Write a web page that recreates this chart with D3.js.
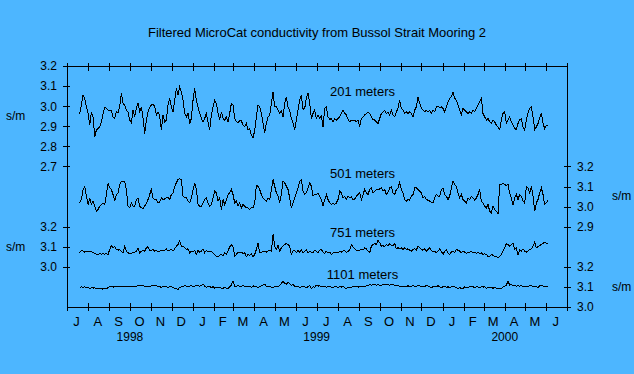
<html>
<meta charset="utf-8">
<script src="https://cdn.jsdelivr.net/npm/d3@7"></script>
<style>
body{
  margin: 0;
  background-color: #4db6ff;
}
text{
  font-family: "Liberation Sans", Arial, sans-serif;
  font-size: 12px;
  fill: black;
}
text.big{
  font-size: 13px;
}
.frame, .tick line{
  stroke: black;
  stroke-width: 1;
  fill: none;
  shape-rendering: crispEdges;
}
.series{
  fill: none;
  stroke: black;
  stroke-width: 1;
  shape-rendering: crispEdges;
}
</style>
<body>
<div id="chartDiv"></div>
<script>
var title = "Filtered MicroCat conductivity from Bussol Strait Mooring 2";
var unitLabel = "s/m";

var monthLabels = ["J","A","S","O","N","D","J","F","M","A","M","J",
                   "J","A","S","O","N","D","J","F","M","A","M","J"];
var yearLabels = ["1998","1999","2000"];
var yearLabelDates = [new Date(1998,9,1), new Date(1999,6,1), new Date(2000,3,1)];

var depthLabels = ["201 meters","501 meters","751 meters","1101 meters"];
var depthLabelValues = [3.05, 3.14, 3.15, 3.14];
var depthLabelDate = new Date(1999,8,6);

var leftTicksUpper = [2.7,2.8,2.9,3.0,3.1,3.2];
var leftTicksLower = [3.0,3.1,3.2];
var rightTicksUpper = [2.9,3.0,3.1,3.2];
var rightTicksLower = [3.0,3.1,3.2];

// filtered series, one value every 2.4365 days from 19 Jul 1998
var sampleStart = new Date(1998,6,19,14);
var sampleStepDays = 2.4365;

var c201 = [2.961,3.005,3.055,3.039,2.997,2.964,2.906,2.972,2.947,2.848,
2.881,2.889,2.897,2.922,2.964,2.994,2.989,2.980,2.977,2.976,
2.947,2.939,2.972,2.969,2.997,3.067,3.014,3.005,2.980,2.972,
2.931,2.917,2.980,2.947,2.989,3.014,2.972,2.997,2.939,2.864,
2.931,2.972,2.994,3.005,3.010,3.000,2.956,2.972,2.951,2.881,
2.956,2.922,2.931,3.005,3.039,2.997,2.972,3.030,3.088,3.055,
3.097,3.072,3.030,2.964,2.947,2.964,2.914,2.939,3.030,3.088,
3.030,2.997,2.964,2.939,2.922,2.939,2.964,2.922,2.881,2.956,
2.997,3.030,3.014,2.964,2.931,2.972,2.939,2.931,2.947,2.922,
2.964,3.014,3.005,2.939,2.922,2.917,2.927,2.927,2.906,2.897,
2.914,2.881,2.889,2.856,2.844,2.878,2.947,3.005,2.997,2.964,
2.914,2.868,2.914,2.947,2.956,3.014,3.072,2.997,2.997,2.980,
2.964,2.977,2.947,3.014,3.047,2.997,2.980,2.939,2.914,2.884,
2.931,2.980,3.030,3.055,2.984,2.989,3.039,3.067,3.014,2.939,
2.964,2.980,
2.939,2.956,2.939,2.951,2.897,2.989,2.997,2.947,2.934,2.939,
2.922,2.939,2.931,2.939,2.947,2.964,2.980,2.964,2.956,2.934,
2.922,2.931,2.927,2.931,2.922,2.931,2.897,2.939,2.947,2.956,
2.964,2.972,2.964,2.947,2.934,2.931,2.922,2.914,2.939,2.964,
2.972,2.980,2.964,2.972,2.956,2.980,2.956,2.947,2.972,2.989,
3.030,2.989,2.980,2.964,2.972,2.964,2.972,2.964,2.947,2.980,
2.997,3.047,3.014,2.989,2.980,2.972,2.980,2.972,2.977,2.964,
2.980,2.972,2.997,3.000,2.994,2.997,2.989,2.972,2.997,3.022,
3.039,3.047,3.072,3.039,3.030,3.005,2.980,2.956,2.989,2.980,
2.972,2.964,2.972,2.964,2.980,2.972,2.989,3.005,3.022,3.039,
2.964,2.947,2.931,2.939,2.922,2.914,2.931,2.922,2.906,2.897,
2.884,2.931,2.964,2.972,2.914,2.931,2.947,2.922,2.906,2.889,
2.884,2.914,2.931,2.939,2.897,2.881,2.931,2.964,2.989,2.997,
2.947,2.884,2.897,2.914,2.939,2.964,2.914,2.889,2.906,2.901];

var c501 = [3.018,3.035,3.085,3.101,3.052,3.010,3.043,3.010,3.027,3.002,
2.977,2.985,3.002,3.010,3.015,3.010,3.060,3.115,3.093,3.085,
3.060,3.027,3.060,3.068,3.110,3.126,3.126,3.126,3.085,3.002,
2.994,3.018,3.002,3.002,3.035,3.043,3.002,2.994,2.989,3.002,
3.018,3.035,3.060,3.085,3.043,3.035,3.035,3.018,3.022,3.043,
3.035,3.038,3.043,3.048,3.035,3.060,3.068,3.101,3.118,3.135,
3.138,3.135,3.052,3.043,3.043,3.027,3.018,3.043,3.085,3.118,
3.085,3.010,3.002,3.002,3.018,3.035,3.043,3.018,3.002,3.010,
3.043,3.077,3.068,3.027,3.043,2.985,3.035,3.010,3.035,3.060,
3.068,3.085,3.060,3.018,3.027,3.002,3.018,2.994,3.010,3.002,
2.994,2.994,2.985,2.994,2.994,3.018,3.105,3.101,3.085,3.060,
3.043,3.035,3.027,3.043,3.035,3.085,3.135,3.101,3.068,3.052,
3.018,3.060,3.126,3.118,3.101,3.085,3.043,2.994,3.018,3.043,
3.068,3.093,3.126,3.135,3.077,3.060,3.068,3.093,3.118,3.101,
3.052,3.060,
3.060,3.068,3.052,3.035,3.002,3.035,3.060,3.035,3.018,3.010,
3.018,3.010,3.018,3.035,3.077,3.068,3.043,3.052,3.035,3.052,
3.043,3.048,3.035,3.038,3.052,3.060,3.068,3.035,3.060,3.085,
3.068,3.060,3.085,3.093,3.068,3.077,3.085,3.082,3.088,3.093,
3.077,3.085,3.060,3.072,3.093,3.098,3.068,3.060,3.085,3.093,
3.121,3.085,3.068,3.035,3.027,3.035,3.032,3.052,3.060,3.093,
3.093,3.085,3.077,3.068,3.043,3.052,3.035,3.032,3.027,3.022,
3.018,3.043,3.060,3.052,3.052,3.085,3.093,3.060,3.052,3.035,
3.052,3.093,3.126,3.110,3.101,3.068,3.043,3.060,3.035,3.027,
3.018,3.043,3.035,3.052,3.043,3.032,3.043,3.060,3.085,3.027,
3.018,3.002,2.994,3.010,2.977,2.969,3.002,2.985,2.977,2.965,
3.110,3.110,3.115,3.110,3.105,3.110,3.068,3.043,3.010,3.043,
3.060,3.035,3.060,3.052,3.027,3.018,3.101,3.093,3.068,3.101,
3.052,2.977,3.018,3.035,3.068,3.093,3.060,3.010,3.018,3.032];

var c751 = [3.070,3.083,3.078,3.073,3.077,3.073,3.078,3.075,3.070,3.067,
3.062,3.063,3.065,3.063,3.065,3.063,3.065,3.062,3.086,3.106,
3.095,3.103,3.086,3.083,3.086,3.078,3.070,3.103,3.078,3.070,
3.065,3.067,3.070,3.073,3.078,3.095,3.070,3.078,3.083,3.078,
3.095,3.100,3.083,3.083,3.086,3.078,3.082,3.073,3.078,3.083,
3.078,3.083,3.090,3.078,3.083,3.086,3.078,3.090,3.103,3.111,
3.131,3.100,3.103,3.095,3.086,3.090,3.070,3.078,3.073,3.083,
3.062,3.083,3.073,3.078,3.090,3.070,3.083,3.073,3.078,3.077,
3.070,3.062,3.053,3.050,3.057,3.062,3.053,3.070,3.062,3.078,
3.100,3.110,3.100,3.053,3.062,3.073,3.070,3.073,3.067,3.070,
3.050,3.062,3.057,3.067,3.050,3.062,3.086,3.120,3.070,3.073,
3.075,3.077,3.073,3.078,3.083,3.078,3.161,3.103,3.086,3.106,
3.078,3.095,3.103,3.111,3.116,3.111,3.103,3.062,3.078,3.083,
3.070,3.083,3.073,3.083,3.070,3.078,3.086,3.070,3.078,3.073,
3.070,3.083,
3.078,3.070,3.083,3.086,3.073,3.067,3.078,3.070,3.073,3.062,
3.070,3.073,3.070,3.070,3.078,3.073,3.078,3.083,3.070,3.077,
3.083,3.111,3.100,3.090,3.083,3.078,3.083,3.086,3.083,3.095,
3.090,3.078,3.070,3.103,3.111,3.116,3.111,3.133,3.120,3.103,
3.106,3.100,3.111,3.103,3.116,3.106,3.103,3.116,3.090,3.095,
3.090,3.095,3.086,3.095,3.086,3.090,3.083,3.078,3.086,3.090,
3.083,3.103,3.095,3.086,3.083,3.090,3.078,3.086,3.095,3.083,
3.073,3.078,3.070,3.078,3.090,3.078,3.062,3.078,3.086,3.070,
3.062,3.073,3.078,3.070,3.086,3.083,3.078,3.070,3.078,3.073,
3.067,3.070,3.073,3.078,3.070,3.073,3.067,3.070,3.067,3.070,
3.062,3.065,3.062,3.050,3.053,3.062,3.057,3.053,3.050,3.045,
3.053,3.062,3.078,3.095,3.116,3.111,3.103,3.111,3.116,3.086,
3.095,3.057,3.086,3.078,3.090,3.078,3.073,3.078,3.086,3.090,
3.103,3.123,3.095,3.100,3.106,3.111,3.116,3.123,3.116,3.116];

var c1101 = [3.092,3.101,3.097,3.101,3.097,3.096,3.092,3.096,3.094,3.096,
3.092,3.094,3.092,3.091,3.089,3.092,3.091,3.096,3.101,3.101,
3.099,3.101,3.102,3.101,3.102,3.102,3.102,3.104,3.104,3.104,
3.102,3.104,3.104,3.102,3.104,3.106,3.107,3.106,3.106,3.104,
3.102,3.104,3.102,3.106,3.106,3.106,3.106,3.101,3.102,3.097,
3.104,3.101,3.102,3.096,3.104,3.101,3.097,3.092,3.091,3.088,
3.097,3.101,3.102,3.107,3.104,3.102,3.104,3.106,3.101,3.104,
3.107,3.106,3.104,3.107,3.114,3.104,3.099,3.102,3.104,3.096,
3.101,3.094,3.096,3.097,3.096,3.094,3.094,3.096,3.094,3.092,
3.101,3.109,3.131,3.104,3.101,3.107,3.101,3.104,3.106,3.102,
3.104,3.101,3.104,3.097,3.106,3.101,3.104,3.096,3.101,3.106,
3.109,3.114,3.104,3.101,3.104,3.099,3.096,3.101,3.104,3.101,
3.106,3.117,3.129,3.117,3.114,3.121,3.117,3.109,3.112,3.104,
3.101,3.104,3.097,3.101,3.104,3.101,3.097,3.101,3.109,3.092,
3.101,3.097,
3.109,3.104,3.106,3.102,3.101,3.104,3.099,3.101,3.104,3.099,
3.097,3.101,3.102,3.097,3.101,3.099,3.104,3.096,3.092,3.097,
3.096,3.099,3.101,3.104,3.102,3.099,3.101,3.104,3.101,3.102,
3.106,3.107,3.111,3.109,3.112,3.111,3.109,3.111,3.107,3.109,
3.112,3.111,3.111,3.111,3.109,3.111,3.111,3.109,3.109,3.107,
3.101,3.102,3.101,3.104,3.102,3.106,3.101,3.104,3.106,3.104,
3.101,3.109,3.106,3.101,3.104,3.101,3.107,3.104,3.101,3.096,
3.101,3.104,3.101,3.106,3.101,3.096,3.101,3.104,3.097,3.101,
3.096,3.101,3.104,3.101,3.097,3.092,3.097,3.092,3.092,3.101,
3.097,3.096,3.101,3.104,3.101,3.096,3.101,3.099,3.097,3.101,
3.099,3.101,3.094,3.097,3.099,3.096,3.094,3.096,3.094,3.092,
3.094,3.092,3.101,3.104,3.109,3.129,3.109,3.112,3.106,3.109,
3.104,3.107,3.104,3.106,3.102,3.101,3.104,3.101,3.106,3.107,
3.101,3.104,3.101,3.097,3.106,3.109,3.104,3.101,3.102,3.104];

var width = 634,
    height = 374;

var svg = d3.select("#chartDiv").append("svg").attr("width",width).attr("height",height);

var x = d3.scaleTime()
  .domain([new Date(1998,6,1), new Date(2000,6,1)])
  .range([67,567]);

// four stacked scales sharing the plot height, each 1.2 s/m tall
var y201 = d3.scaleLinear().domain([2.0,3.2]).range([307,66]);
var y501 = d3.scaleLinear().domain([2.5,3.7]).range([307,66]);
var y751 = d3.scaleLinear().domain([2.8,4.0]).range([307,66]);
var y1101 = d3.scaleLinear().domain([3.0,4.2]).range([307,66]);

function sampleDate(i){
  return new Date(+sampleStart + i*sampleStepDays*864e5);
}

svg.append("text")
  .attr("class","big")
  .attr("x",width/2)
  .attr("y",37)
  .attr("text-anchor","middle")
  .text(title);

svg.append("rect")
  .attr("class","frame")
  .attr("x",x.range()[0]+0.5)
  .attr("y",y201.range()[1]+0.5)
  .attr("width",x.range()[1]-x.range()[0])
  .attr("height",y201.range()[0]-y201.range()[1]);

var months = d3.timeMonth.range(x.domain()[0], x.domain()[1]);

var topAxis = svg.append("g").attr("transform","translate(0,66)")
  .call(d3.axisTop(x).tickValues(months.concat([x.domain()[1]])).tickFormat("").tickSize(3).tickSizeOuter(0));
topAxis.select(".domain").remove();
topAxis.selectAll(".tick line").attr("y1",5);

var bottomAxis = svg.append("g").attr("transform","translate(0,307)")
  .call(d3.axisBottom(x).tickValues(months.concat([x.domain()[1]])).tickFormat("").tickSize(4).tickSizeOuter(0));
bottomAxis.select(".domain").remove();
bottomAxis.selectAll(".tick line").attr("y1",-4);

svg.selectAll(".monthLabel").data(months).enter()
  .append("text")
  .attr("class","monthLabel big")
  .attr("x",function(d){ return (x(d)+x(d3.timeMonth.offset(d,1)))/2 - 1; })
  .attr("y",326)
  .attr("text-anchor","middle")
  .text(function(d,i){ return monthLabels[i]; });

svg.selectAll(".yearLabel").data(yearLabels).enter()
  .append("text")
  .attr("class","yearLabel")
  .attr("x",function(d,i){ return x(yearLabelDates[i]); })
  .attr("y",341)
  .attr("text-anchor","middle")
  .text(function(d){ return d; });

function yAxis(scale, ticks, side){
  var axis = (side=="left" ? d3.axisLeft(scale) : d3.axisRight(scale))
    .tickValues(ticks)
    .tickFormat(d3.format(".1f"))
    .tickSize(4)
    .tickSizeOuter(0)
    .tickPadding(6);
  var g = svg.append("g")
    .attr("transform","translate(" + (side=="left" ? x.range()[0] : x.range()[1]) + ",0)")
    .call(axis);
  g.select(".domain").remove();
  g.selectAll(".tick line").attr("x1", side=="left" ? 3 : -3);
  // unit label centred on the tick range
  svg.append("text")
    .attr("x", side=="left" ? 6 : 612)
    .attr("y", scale((ticks[0]+ticks[ticks.length-1])/2))
    .attr("dy","0.32em")
    .text(unitLabel);
}

yAxis(y201, leftTicksUpper, "left");
yAxis(y751, leftTicksLower, "left");
yAxis(y501, rightTicksUpper, "right");
yAxis(y1101, rightTicksLower, "right");

var seriesList = [
  {values:c201, y:y201},
  {values:c501, y:y501},
  {values:c751, y:y751},
  {values:c1101, y:y1101}
];

seriesList.forEach(function(s,k){
  var line = d3.line()
    .x(function(d,i){ return x(sampleDate(i)); })
    .y(function(d){ return s.y(d); });
  svg.append("path")
    .attr("class","series")
    .attr("d",line(s.values));

  svg.append("text")
    .attr("class","big")
    .attr("x",x(depthLabelDate))
    .attr("y",s.y(depthLabelValues[k]))
    .attr("text-anchor","middle")
    .text(depthLabels[k]);
});
</script>
</body>
</html>
